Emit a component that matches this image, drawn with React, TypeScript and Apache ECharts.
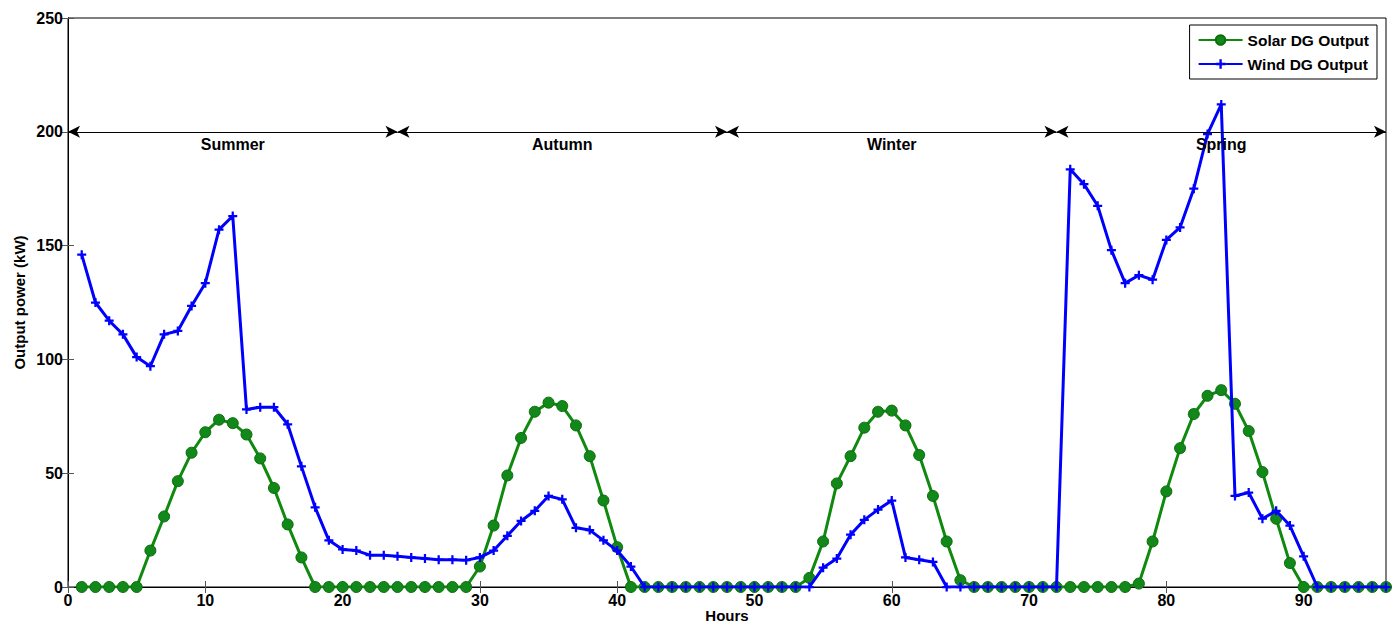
import React, { useEffect, useRef } from "react";
import * as echarts from "echarts";

const hours: number[] = Array.from({ length: 96 }, (_, i) => i + 1);

const solar: number[] = [
  0, 0, 0, 0, 0, 16, 31, 46.5, 59, 68, 73.5, 72, 67, 56.5, 43.5, 27.5, 13, 0, 0, 0, 0, 0, 0, 0,
  0, 0, 0, 0, 0, 9, 27, 49, 65.5, 77, 81, 79.5, 71, 57.5, 38, 17.5, 0, 0, 0, 0, 0, 0, 0, 0,
  0, 0, 0, 0, 0, 4, 20, 45.5, 57.5, 70, 77, 77.5, 71, 58, 40, 20, 3, 0, 0, 0, 0, 0, 0, 0,
  0, 0, 0, 0, 0, 1.5, 20, 42, 61, 76, 84, 86.5, 80.5, 68.5, 50.5, 30, 10.5, 0, 0, 0, 0, 0, 0, 0,
];

const wind: number[] = [
  146, 125, 117, 111, 101, 97, 111, 112.5, 123.5, 133.5, 157, 163, 78, 79, 79, 71.5, 53, 35, 20.5, 16.5, 16, 14, 14, 13.5,
  13, 12.5, 12, 12, 11.8, 13, 16, 22.5, 29, 33.5, 40, 38.5, 26, 25, 20.5, 16, 9, 0, 0, 0, 0, 0, 0, 0,
  0, 0, 0, 0, 0, 0, 8.5, 12.5, 23, 29.5, 34, 38, 13, 12, 11, 0, 0, 0, 0, 0, 0, 0, 0, 0,
  183.5, 177, 167.5, 148, 133.5, 137, 135, 152.5, 158, 175, 199, 212, 40, 41.5, 30, 33.5, 27, 13.5, 0, 0, 0, 0, 0, 0,
];

const seasons: string[] = ["Summer", "Autumn", "Winter", "Spring"];
const seasonBounds: number[] = [0, 24, 48, 72, 96];
const seasonLevel = 200;

const FONT = "Liberation Sans, Arial, sans-serif";

export default function App() {
  const ref = useRef<HTMLDivElement>(null);
  useEffect(() => {
    if (!ref.current) return;
    const chart = echarts.init(ref.current, undefined, { renderer: "svg" });
    const plus = "path://M-1,-4 L1,-4 L1,-1 L4,-1 L4,1 L1,1 L1,4 L-1,4 L-1,1 L-4,1 L-4,-1 L-1,-1 Z";
    const arrowLines = seasons.map((s, i) => [
      {
        coord: [seasonBounds[i], seasonLevel],
        name: s,
      },
      { coord: [seasonBounds[i + 1], seasonLevel] },
    ]);
    const textStyle = { fontFamily: FONT, fontWeight: "bold" as const, fontSize: 16, color: "#000" };
    chart.setOption({
      animation: false,
      backgroundColor: "#fff",
      textStyle: { fontFamily: FONT },
      grid: {
        left: 68,
        right: 13,
        top: 18,
        bottom: 37,
        containLabel: false,
        outerBoundsMode: "none",
        show: true,
        borderColor: "#000",
        borderWidth: 1,
      },
      legend: {
        right: 22,
        top: 25,
        orient: "vertical",
        backgroundColor: "#fff",
        borderColor: "#000",
        borderWidth: 1,
        borderRadius: 0,
        padding: [7, 8, 7, 8],
        itemGap: 8,
        itemWidth: 44,
        itemHeight: 12,
        textStyle: { ...textStyle, fontSize: 15.5 },
        data: ["Solar DG Output", "Wind DG Output"],
      },
      xAxis: [
        {
          type: "value",
          min: 0,
          max: 96,
          interval: 10,
          name: "Hours",
          nameLocation: "middle",
          nameGap: 21,
          nameMoveOverlap: false,
          nameTextStyle: { ...textStyle, fontSize: 15 },
          axisLine: { show: true, onZero: false, lineStyle: { color: "#000", width: 1 } },
          axisTick: { show: true, inside: true, length: 6, lineStyle: { color: "#555" } },
          axisLabel: {
            ...textStyle,
            margin: 5,
            showMaxLabel: false,
            formatter: (v: number) => (v % 10 === 0 ? String(v) : ""),
          },
          splitLine: { show: false },
        },
        {
          type: "value",
          position: "top",
          min: 0,
          max: 96,
          interval: 10,
          axisLine: { show: true, lineStyle: { color: "#000" } },
          axisTick: { show: true, inside: true, length: 6, lineStyle: { color: "#555" } },
          axisLabel: { show: false },
          splitLine: { show: false },
        },
      ],
      yAxis: [
        {
          type: "value",
          min: 0,
          max: 250,
          interval: 50,
          name: "Output power (kW)",
          nameLocation: "middle",
          nameGap: 41,
          nameMoveOverlap: false,
          nameTextStyle: { ...textStyle, fontSize: 15 },
          axisLine: { show: true, lineStyle: { color: "#000", width: 1 } },
          axisTick: { show: true, inside: true, length: 6, lineStyle: { color: "#555" } },
          axisLabel: { ...textStyle, margin: 5 },
          splitLine: { show: false },
        },
        {
          type: "value",
          position: "right",
          min: 0,
          max: 250,
          interval: 50,
          axisLine: { show: true, lineStyle: { color: "#000" } },
          axisTick: { show: true, inside: true, length: 6, lineStyle: { color: "#555" } },
          axisLabel: { show: false },
          splitLine: { show: false },
        },
      ],
      series: [
        {
          name: "Solar DG Output",
          type: "line",
          data: hours.map((h, i) => [h, solar[i]]),
          symbol: "circle",
          symbolSize: 11,
          showAllSymbol: true,
          lineStyle: { color: "#0f8a0f", width: 3 },
          itemStyle: { color: "#13881a", borderColor: "#0b6e0b", borderWidth: 1 },
          z: 2,
        },
        {
          name: "Wind DG Output",
          type: "line",
          data: hours.map((h, i) => [h, wind[i]]),
          symbol: plus,
          symbolSize: 9,
          showAllSymbol: true,
          lineStyle: { color: "#0000ff", width: 3 },
          itemStyle: { color: "#0000ff" },
          z: 3,
        },
        {
          name: "seasons",
          type: "line",
          data: [],
          silent: true,
          markLine: {
            silent: true,
            symbol: ["arrow", "arrow"],
            symbolSize: [9, 12],
            lineStyle: { color: "#000", width: 1, type: "solid" },
            label: {
              show: true,
              position: "insideMiddleBottom",
              formatter: (p: any) => p.name,
              ...textStyle,
              distance: 5,
            },
            data: arrowLines,
          },
          z: 4,
        },
      ],
    });
    return () => chart.dispose();
  }, []);
  return (
    <div
      ref={ref}
      style={{ position: "absolute", left: 0, top: 0, width: 1399, height: 624 }}
    />
  );
}
